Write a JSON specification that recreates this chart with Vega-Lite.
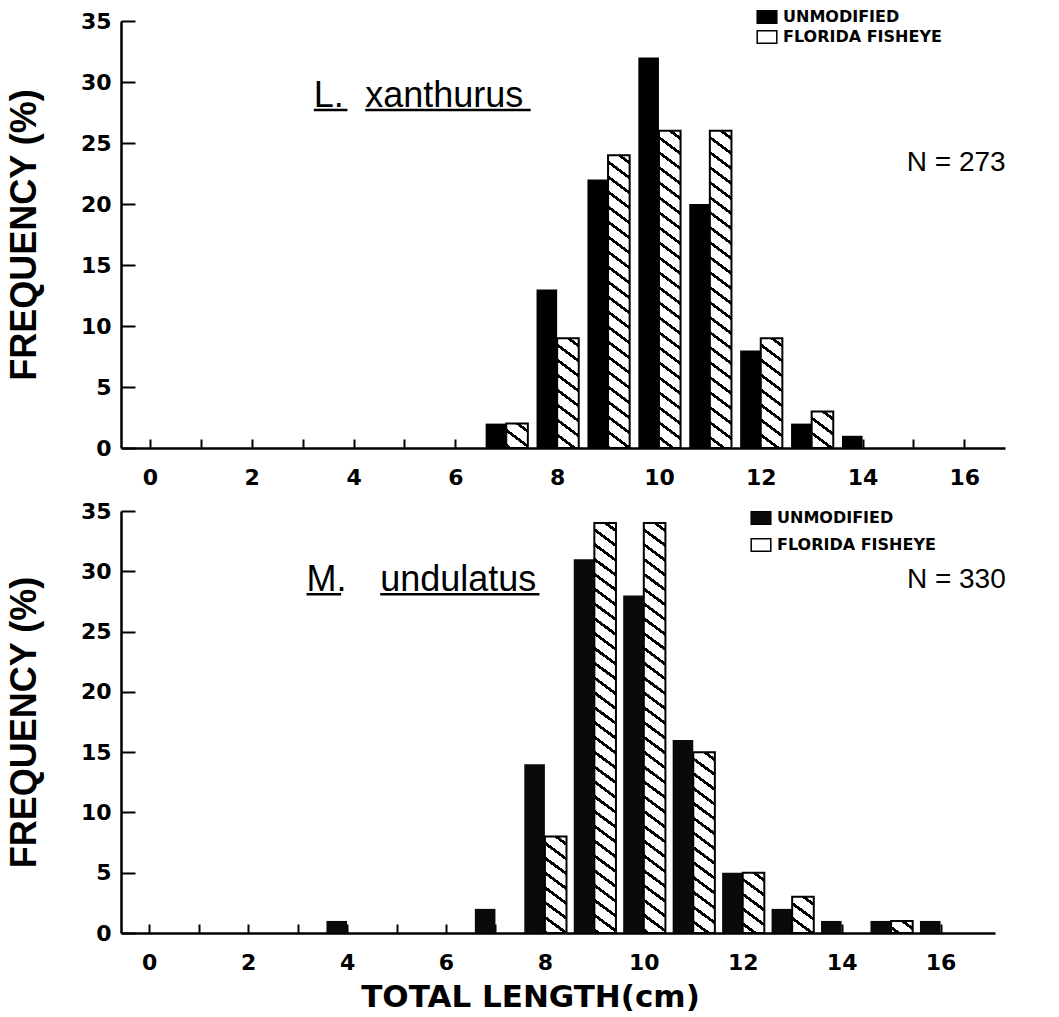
{
  "$schema": "https://vega.github.io/schema/vega-lite/v6.json",
  "padding": {"left": 6, "top": 9, "right": 5, "bottom": 0},
  "background": "white",
  "spacing": 12,
  "resolve": {"scale": {"fill": "independent"}, "legend": {"fill": "independent"}},
  "config": {
    "view": {"stroke": null},
    "axis": {"domainColor": "#000", "tickColor": "#000", "labelColor": "#000", "titleColor": "#000", "grid": false, "domainWidth": 2.5, "tickWidth": 2, "labelFont": "DejaVu Sans", "labelFontWeight": "bold", "labelFontSize": 22},
    "legend": {"labelFont": "DejaVu Sans", "labelFontWeight": "bold", "labelFontSize": 16, "labelColor": "#000", "padding": 0, "labelOffset": 8}
  },
  "datasets": {
    "d": [
      {"panel": "top", "group": "UNMODIFIED", "len": 7, "v": 2},
      {"panel": "top", "group": "UNMODIFIED", "len": 8, "v": 13},
      {"panel": "top", "group": "UNMODIFIED", "len": 9, "v": 22},
      {"panel": "top", "group": "UNMODIFIED", "len": 10, "v": 32},
      {"panel": "top", "group": "UNMODIFIED", "len": 11, "v": 20},
      {"panel": "top", "group": "UNMODIFIED", "len": 12, "v": 8},
      {"panel": "top", "group": "UNMODIFIED", "len": 13, "v": 2},
      {"panel": "top", "group": "UNMODIFIED", "len": 14, "v": 1},
      {"panel": "top", "group": "FLORIDA FISHEYE", "len": 7, "v": 2},
      {"panel": "top", "group": "FLORIDA FISHEYE", "len": 8, "v": 9},
      {"panel": "top", "group": "FLORIDA FISHEYE", "len": 9, "v": 24},
      {"panel": "top", "group": "FLORIDA FISHEYE", "len": 10, "v": 26},
      {"panel": "top", "group": "FLORIDA FISHEYE", "len": 11, "v": 26},
      {"panel": "top", "group": "FLORIDA FISHEYE", "len": 12, "v": 9},
      {"panel": "top", "group": "FLORIDA FISHEYE", "len": 13, "v": 3},
      {"panel": "bottom", "group": "UNMODIFIED", "len": 4, "v": 1},
      {"panel": "bottom", "group": "UNMODIFIED", "len": 7, "v": 2},
      {"panel": "bottom", "group": "UNMODIFIED", "len": 8, "v": 14},
      {"panel": "bottom", "group": "UNMODIFIED", "len": 9, "v": 31},
      {"panel": "bottom", "group": "UNMODIFIED", "len": 10, "v": 28},
      {"panel": "bottom", "group": "UNMODIFIED", "len": 11, "v": 16},
      {"panel": "bottom", "group": "UNMODIFIED", "len": 12, "v": 5},
      {"panel": "bottom", "group": "UNMODIFIED", "len": 13, "v": 2},
      {"panel": "bottom", "group": "UNMODIFIED", "len": 14, "v": 1},
      {"panel": "bottom", "group": "UNMODIFIED", "len": 15, "v": 1},
      {"panel": "bottom", "group": "UNMODIFIED", "len": 16, "v": 1},
      {"panel": "bottom", "group": "FLORIDA FISHEYE", "len": 8, "v": 8},
      {"panel": "bottom", "group": "FLORIDA FISHEYE", "len": 9, "v": 34},
      {"panel": "bottom", "group": "FLORIDA FISHEYE", "len": 10, "v": 34},
      {"panel": "bottom", "group": "FLORIDA FISHEYE", "len": 11, "v": 15},
      {"panel": "bottom", "group": "FLORIDA FISHEYE", "len": 12, "v": 5},
      {"panel": "bottom", "group": "FLORIDA FISHEYE", "len": 13, "v": 3},
      {"panel": "bottom", "group": "FLORIDA FISHEYE", "len": 15, "v": 1}
    ]
  },
  "vconcat": [
    {
      "width": 884,
      "height": 427,
      "layer": [
        {
          "data": {"name": "d"},
          "transform": [{"filter": "datum.panel === 'top' && datum.group === 'UNMODIFIED'"}],
          "mark": {"type": "bar", "orient": "vertical", "width": 20.6, "xOffset": -10.3},
          "encoding": {
            "x": {"field": "len", "type": "quantitative", "scale": {"domain": [-0.47, 16.7], "nice": false, "zero": false},
                  "axis": {"values": [0,1,2,3,4,5,6,7,8,9,10,11,12,13,14,15,16], "labelExpr": "datum.value % 2 === 0 ? datum.label : ''", "tickSize": -9, "labelPadding": 28, "title": null}},
            "y": {"field": "v", "type": "quantitative", "scale": {"domain": [0, 35], "nice": false},
                  "axis": {"values": [0,5,10,15,20,25,30,35], "tickSize": -14, "labelPadding": 24, "title": "FREQUENCY (%)", "titleFont": "Liberation Sans", "titleFontSize": 36, "titleFontWeight": "bold", "titlePadding": 37}},
            "fill": {"field": "group", "type": "nominal", "scale": {"domain": ["UNMODIFIED", "FLORIDA FISHEYE"], "range": ["#000", "#fff"]},
                     "legend": {"orient": "none", "legendX": 638, "legendY": -12, "title": null, "symbolType": "M-1.4,-0.9H1.4V0.9H-1.4Z", "symbolSize": 196, "symbolStrokeColor": "#000", "symbolStrokeWidth": 1.5, "rowPadding": 0}}
          }
        },
        {
          "data": {"name": "d"},
          "transform": [{"filter": "datum.panel === 'top' && datum.group === 'FLORIDA FISHEYE'"}],
          "mark": {"type": "bar", "orient": "vertical", "width": 21.6, "xOffset": 10.8, "stroke": "#000", "strokeWidth": 2},
          "encoding": {
            "x": {"field": "len", "type": "quantitative"},
            "y": {"field": "v", "type": "quantitative"},
            "fill": {
              "condition": [
                {"test": "datum.v === 2", "value": {"gradient": "linear", "x1": 1, "y1": 0, "x2": -10.331, "y2": 17.067, "stops": [{"offset":0,"color":"#fff"},{"offset":0.01,"color":"#fff"},{"offset":0.01,"color":"#000"},{"offset":0.016,"color":"#000"},{"offset":0.016,"color":"#fff"},{"offset":0.035,"color":"#fff"},{"offset":0.035,"color":"#000"},{"offset":0.041,"color":"#000"},{"offset":0.041,"color":"#fff"},{"offset":0.06,"color":"#fff"},{"offset":0.06,"color":"#000"},{"offset":0.066,"color":"#000"},{"offset":0.066,"color":"#fff"}]}},
                {"test": "datum.v === 3", "value": {"gradient": "linear", "x1": 1, "y1": 0, "x2": -5.068, "y2": 13.708, "stops": [{"offset":0,"color":"#fff"},{"offset":0.01,"color":"#fff"},{"offset":0.01,"color":"#000"},{"offset":0.016,"color":"#000"},{"offset":0.016,"color":"#fff"},{"offset":0.035,"color":"#fff"},{"offset":0.035,"color":"#000"},{"offset":0.041,"color":"#000"},{"offset":0.041,"color":"#fff"},{"offset":0.06,"color":"#fff"},{"offset":0.06,"color":"#000"},{"offset":0.066,"color":"#000"},{"offset":0.066,"color":"#fff"},{"offset":0.085,"color":"#fff"},{"offset":0.085,"color":"#000"},{"offset":0.091,"color":"#000"},{"offset":0.091,"color":"#fff"}]}},
                {"test": "datum.v === 9", "value": {"gradient": "linear", "x1": 1, "y1": 0, "x2": 0.211, "y2": 5.348, "stops": [{"offset":0,"color":"#fff"},{"offset":0.01,"color":"#fff"},{"offset":0.01,"color":"#000"},{"offset":0.016,"color":"#000"},{"offset":0.016,"color":"#fff"},{"offset":0.035,"color":"#fff"},{"offset":0.035,"color":"#000"},{"offset":0.041,"color":"#000"},{"offset":0.041,"color":"#fff"},{"offset":0.06,"color":"#fff"},{"offset":0.06,"color":"#000"},{"offset":0.066,"color":"#000"},{"offset":0.066,"color":"#fff"},{"offset":0.085,"color":"#fff"},{"offset":0.085,"color":"#000"},{"offset":0.091,"color":"#000"},{"offset":0.091,"color":"#fff"},{"offset":0.11,"color":"#fff"},{"offset":0.11,"color":"#000"},{"offset":0.116,"color":"#000"},{"offset":0.116,"color":"#fff"},{"offset":0.135,"color":"#fff"},{"offset":0.135,"color":"#000"},{"offset":0.141,"color":"#000"},{"offset":0.141,"color":"#fff"},{"offset":0.16,"color":"#fff"},{"offset":0.16,"color":"#000"},{"offset":0.166,"color":"#000"},{"offset":0.166,"color":"#fff"},{"offset":0.185,"color":"#fff"},{"offset":0.185,"color":"#000"},{"offset":0.191,"color":"#000"},{"offset":0.191,"color":"#fff"},{"offset":0.21,"color":"#fff"},{"offset":0.21,"color":"#000"},{"offset":0.216,"color":"#000"},{"offset":0.216,"color":"#fff"}]}},
                {"test": "datum.v === 24", "value": {"gradient": "linear", "x1": 1, "y1": 0, "x2": 0.887, "y2": 2.043, "stops": [{"offset":0,"color":"#fff"},{"offset":0.01,"color":"#fff"},{"offset":0.01,"color":"#000"},{"offset":0.016,"color":"#000"},{"offset":0.016,"color":"#fff"},{"offset":0.035,"color":"#fff"},{"offset":0.035,"color":"#000"},{"offset":0.041,"color":"#000"},{"offset":0.041,"color":"#fff"},{"offset":0.06,"color":"#fff"},{"offset":0.06,"color":"#000"},{"offset":0.066,"color":"#000"},{"offset":0.066,"color":"#fff"},{"offset":0.085,"color":"#fff"},{"offset":0.085,"color":"#000"},{"offset":0.091,"color":"#000"},{"offset":0.091,"color":"#fff"},{"offset":0.11,"color":"#fff"},{"offset":0.11,"color":"#000"},{"offset":0.116,"color":"#000"},{"offset":0.116,"color":"#fff"},{"offset":0.135,"color":"#fff"},{"offset":0.135,"color":"#000"},{"offset":0.141,"color":"#000"},{"offset":0.141,"color":"#fff"},{"offset":0.16,"color":"#fff"},{"offset":0.16,"color":"#000"},{"offset":0.166,"color":"#000"},{"offset":0.166,"color":"#fff"},{"offset":0.185,"color":"#fff"},{"offset":0.185,"color":"#000"},{"offset":0.191,"color":"#000"},{"offset":0.191,"color":"#fff"},{"offset":0.21,"color":"#fff"},{"offset":0.21,"color":"#000"},{"offset":0.216,"color":"#000"},{"offset":0.216,"color":"#fff"},{"offset":0.235,"color":"#fff"},{"offset":0.235,"color":"#000"},{"offset":0.241,"color":"#000"},{"offset":0.241,"color":"#fff"},{"offset":0.26,"color":"#fff"},{"offset":0.26,"color":"#000"},{"offset":0.266,"color":"#000"},{"offset":0.266,"color":"#fff"},{"offset":0.285,"color":"#fff"},{"offset":0.285,"color":"#000"},{"offset":0.291,"color":"#000"},{"offset":0.291,"color":"#fff"},{"offset":0.31,"color":"#fff"},{"offset":0.31,"color":"#000"},{"offset":0.316,"color":"#000"},{"offset":0.316,"color":"#fff"},{"offset":0.335,"color":"#fff"},{"offset":0.335,"color":"#000"},{"offset":0.341,"color":"#000"},{"offset":0.341,"color":"#fff"},{"offset":0.36,"color":"#fff"},{"offset":0.36,"color":"#000"},{"offset":0.366,"color":"#000"},{"offset":0.366,"color":"#fff"},{"offset":0.385,"color":"#fff"},{"offset":0.385,"color":"#000"},{"offset":0.391,"color":"#000"},{"offset":0.391,"color":"#fff"},{"offset":0.41,"color":"#fff"},{"offset":0.41,"color":"#000"},{"offset":0.416,"color":"#000"},{"offset":0.416,"color":"#fff"},{"offset":0.435,"color":"#fff"},{"offset":0.435,"color":"#000"},{"offset":0.441,"color":"#000"},{"offset":0.441,"color":"#fff"},{"offset":0.46,"color":"#fff"},{"offset":0.46,"color":"#000"},{"offset":0.466,"color":"#000"},{"offset":0.466,"color":"#fff"},{"offset":0.485,"color":"#fff"},{"offset":0.485,"color":"#000"},{"offset":0.491,"color":"#000"},{"offset":0.491,"color":"#fff"},{"offset":0.51,"color":"#fff"},{"offset":0.51,"color":"#000"},{"offset":0.516,"color":"#000"},{"offset":0.516,"color":"#fff"}]}},
                {"test": "datum.v === 26", "value": {"gradient": "linear", "x1": 1, "y1": 0, "x2": 0.9036, "y2": 1.8866, "stops": [{"offset":0,"color":"#fff"},{"offset":0.01,"color":"#fff"},{"offset":0.01,"color":"#000"},{"offset":0.016,"color":"#000"},{"offset":0.016,"color":"#fff"},{"offset":0.035,"color":"#fff"},{"offset":0.035,"color":"#000"},{"offset":0.041,"color":"#000"},{"offset":0.041,"color":"#fff"},{"offset":0.06,"color":"#fff"},{"offset":0.06,"color":"#000"},{"offset":0.066,"color":"#000"},{"offset":0.066,"color":"#fff"},{"offset":0.085,"color":"#fff"},{"offset":0.085,"color":"#000"},{"offset":0.091,"color":"#000"},{"offset":0.091,"color":"#fff"},{"offset":0.11,"color":"#fff"},{"offset":0.11,"color":"#000"},{"offset":0.116,"color":"#000"},{"offset":0.116,"color":"#fff"},{"offset":0.135,"color":"#fff"},{"offset":0.135,"color":"#000"},{"offset":0.141,"color":"#000"},{"offset":0.141,"color":"#fff"},{"offset":0.16,"color":"#fff"},{"offset":0.16,"color":"#000"},{"offset":0.166,"color":"#000"},{"offset":0.166,"color":"#fff"},{"offset":0.185,"color":"#fff"},{"offset":0.185,"color":"#000"},{"offset":0.191,"color":"#000"},{"offset":0.191,"color":"#fff"},{"offset":0.21,"color":"#fff"},{"offset":0.21,"color":"#000"},{"offset":0.216,"color":"#000"},{"offset":0.216,"color":"#fff"},{"offset":0.235,"color":"#fff"},{"offset":0.235,"color":"#000"},{"offset":0.241,"color":"#000"},{"offset":0.241,"color":"#fff"},{"offset":0.26,"color":"#fff"},{"offset":0.26,"color":"#000"},{"offset":0.266,"color":"#000"},{"offset":0.266,"color":"#fff"},{"offset":0.285,"color":"#fff"},{"offset":0.285,"color":"#000"},{"offset":0.291,"color":"#000"},{"offset":0.291,"color":"#fff"},{"offset":0.31,"color":"#fff"},{"offset":0.31,"color":"#000"},{"offset":0.316,"color":"#000"},{"offset":0.316,"color":"#fff"},{"offset":0.335,"color":"#fff"},{"offset":0.335,"color":"#000"},{"offset":0.341,"color":"#000"},{"offset":0.341,"color":"#fff"},{"offset":0.36,"color":"#fff"},{"offset":0.36,"color":"#000"},{"offset":0.366,"color":"#000"},{"offset":0.366,"color":"#fff"},{"offset":0.385,"color":"#fff"},{"offset":0.385,"color":"#000"},{"offset":0.391,"color":"#000"},{"offset":0.391,"color":"#fff"},{"offset":0.41,"color":"#fff"},{"offset":0.41,"color":"#000"},{"offset":0.416,"color":"#000"},{"offset":0.416,"color":"#fff"},{"offset":0.435,"color":"#fff"},{"offset":0.435,"color":"#000"},{"offset":0.441,"color":"#000"},{"offset":0.441,"color":"#fff"},{"offset":0.46,"color":"#fff"},{"offset":0.46,"color":"#000"},{"offset":0.466,"color":"#000"},{"offset":0.466,"color":"#fff"},{"offset":0.485,"color":"#fff"},{"offset":0.485,"color":"#000"},{"offset":0.491,"color":"#000"},{"offset":0.491,"color":"#fff"},{"offset":0.51,"color":"#fff"},{"offset":0.51,"color":"#000"},{"offset":0.516,"color":"#000"},{"offset":0.516,"color":"#fff"},{"offset":0.535,"color":"#fff"},{"offset":0.535,"color":"#000"},{"offset":0.541,"color":"#000"},{"offset":0.541,"color":"#fff"}]}}
              ],
              "value": "#fff"
            }
          }
        },
        {
          "data": {"values": [{"t": "L."}]},
          "mark": {"type": "text", "font": "Liberation Sans", "fontSize": 36, "align": "left", "baseline": "alphabetic", "color": "#000"},
          "encoding": {"x": {"datum": 3.22}, "y": {"datum": 27.95}, "text": {"field": "t"}}
        },
        {
          "data": {"values": [{"t": "xanthurus"}]},
          "mark": {"type": "text", "font": "Liberation Sans", "fontSize": 36, "align": "left", "baseline": "alphabetic", "color": "#000"},
          "encoding": {"x": {"datum": 4.23}, "y": {"datum": 27.95}, "text": {"field": "t"}}
        },
        {
          "data": {"values": [{}]},
          "mark": {"type": "rule", "strokeWidth": 2.5, "color": "#000"},
          "encoding": {"x": {"datum": 3.22}, "x2": {"datum": 3.88}, "y": {"datum": 27.7}}
        },
        {
          "data": {"values": [{}]},
          "mark": {"type": "rule", "strokeWidth": 2.5, "color": "#000"},
          "encoding": {"x": {"datum": 4.23}, "x2": {"datum": 7.48}, "y": {"datum": 27.7}}
        },
        {
          "data": {"values": [{"t": "N = 273"}]},
          "mark": {"type": "text", "font": "Liberation Sans", "fontSize": 28, "align": "left", "baseline": "alphabetic", "color": "#000"},
          "encoding": {"x": {"datum": 14.87}, "y": {"datum": 22.7}, "text": {"field": "t"}}
        }
      ]
    },
    {
      "width": 874,
      "height": 422,
      "layer": [
        {
          "data": {"name": "d"},
          "transform": [{"filter": "datum.panel === 'bottom' && datum.group === 'UNMODIFIED'"}],
          "mark": {"type": "bar", "orient": "vertical", "width": 20.6, "xOffset": -10.3},
          "encoding": {
            "x": {"field": "len", "type": "quantitative", "scale": {"domain": [-0.47, 17], "nice": false, "zero": false},
                  "axis": {"values": [0,1,2,3,4,5,6,7,8,9,10,11,12,13,14,15,16], "labelExpr": "datum.value % 2 === 0 ? datum.label : ''", "tickSize": -9, "labelPadding": 28, "title": "TOTAL LENGTH(cm)", "titleFont": "DejaVu Sans", "titleFontSize": 31, "titleFontWeight": "bold", "titlePadding": 9, "titleX": 409, "titleAnchor": "middle"}},
            "y": {"field": "v", "type": "quantitative", "scale": {"domain": [0, 35], "nice": false},
                  "axis": {"values": [0,5,10,15,20,25,30,35], "tickSize": -14, "labelPadding": 24, "title": "FREQUENCY (%)", "titleFont": "Liberation Sans", "titleFontSize": 36, "titleFontWeight": "bold", "titlePadding": 37}},
            "fill": {"field": "group", "type": "nominal", "scale": {"domain": ["UNMODIFIED", "FLORIDA FISHEYE"], "range": ["#0a0a0a", "#fff"]},
                     "legend": {"orient": "none", "legendX": 632, "legendY": -1, "title": null, "symbolType": "M-1.4,-0.9H1.4V0.9H-1.4Z", "symbolSize": 196, "symbolStrokeColor": "#000", "symbolStrokeWidth": 1.5, "rowPadding": 7}}
          }
        },
        {
          "data": {"name": "d"},
          "transform": [{"filter": "datum.panel === 'bottom' && datum.group === 'FLORIDA FISHEYE'"}],
          "mark": {"type": "bar", "orient": "vertical", "width": 21.6, "xOffset": 10.8, "stroke": "#000", "strokeWidth": 2},
          "encoding": {
            "x": {"field": "len", "type": "quantitative"},
            "y": {"field": "v", "type": "quantitative"},
            "fill": {
              "condition": [
                {"test": "datum.v === 1", "value": {"gradient": "linear", "x1": 1, "y1": 0, "x2": -22.64, "y2": 17.8, "stops": [{"offset":0,"color":"#fff"},{"offset":0.01,"color":"#fff"},{"offset":0.01,"color":"#000"},{"offset":0.016,"color":"#000"},{"offset":0.016,"color":"#fff"},{"offset":0.035,"color":"#fff"},{"offset":0.035,"color":"#000"},{"offset":0.041,"color":"#000"},{"offset":0.041,"color":"#fff"}]}},
                {"test": "datum.v === 3", "value": {"gradient": "linear", "x1": 1, "y1": 0, "x2": -5.068, "y2": 13.708, "stops": [{"offset":0,"color":"#fff"},{"offset":0.01,"color":"#fff"},{"offset":0.01,"color":"#000"},{"offset":0.016,"color":"#000"},{"offset":0.016,"color":"#fff"},{"offset":0.035,"color":"#fff"},{"offset":0.035,"color":"#000"},{"offset":0.041,"color":"#000"},{"offset":0.041,"color":"#fff"},{"offset":0.06,"color":"#fff"},{"offset":0.06,"color":"#000"},{"offset":0.066,"color":"#000"},{"offset":0.066,"color":"#fff"},{"offset":0.085,"color":"#fff"},{"offset":0.085,"color":"#000"},{"offset":0.091,"color":"#000"},{"offset":0.091,"color":"#fff"}]}},
                {"test": "datum.v === 5", "value": {"gradient": "linear", "x1": 1, "y1": 0, "x2": -1.44, "y2": 9.188, "stops": [{"offset":0,"color":"#fff"},{"offset":0.01,"color":"#fff"},{"offset":0.01,"color":"#000"},{"offset":0.016,"color":"#000"},{"offset":0.016,"color":"#fff"},{"offset":0.035,"color":"#fff"},{"offset":0.035,"color":"#000"},{"offset":0.041,"color":"#000"},{"offset":0.041,"color":"#fff"},{"offset":0.06,"color":"#fff"},{"offset":0.06,"color":"#000"},{"offset":0.066,"color":"#000"},{"offset":0.066,"color":"#fff"},{"offset":0.085,"color":"#fff"},{"offset":0.085,"color":"#000"},{"offset":0.091,"color":"#000"},{"offset":0.091,"color":"#fff"},{"offset":0.11,"color":"#fff"},{"offset":0.11,"color":"#000"},{"offset":0.116,"color":"#000"},{"offset":0.116,"color":"#fff"}]}},
                {"test": "datum.v === 8", "value": {"gradient": "linear", "x1": 1, "y1": 0, "x2": 0.007, "y2": 5.983, "stops": [{"offset":0,"color":"#fff"},{"offset":0.01,"color":"#fff"},{"offset":0.01,"color":"#000"},{"offset":0.016,"color":"#000"},{"offset":0.016,"color":"#fff"},{"offset":0.035,"color":"#fff"},{"offset":0.035,"color":"#000"},{"offset":0.041,"color":"#000"},{"offset":0.041,"color":"#fff"},{"offset":0.06,"color":"#fff"},{"offset":0.06,"color":"#000"},{"offset":0.066,"color":"#000"},{"offset":0.066,"color":"#fff"},{"offset":0.085,"color":"#fff"},{"offset":0.085,"color":"#000"},{"offset":0.091,"color":"#000"},{"offset":0.091,"color":"#fff"},{"offset":0.11,"color":"#fff"},{"offset":0.11,"color":"#000"},{"offset":0.116,"color":"#000"},{"offset":0.116,"color":"#fff"},{"offset":0.135,"color":"#fff"},{"offset":0.135,"color":"#000"},{"offset":0.141,"color":"#000"},{"offset":0.141,"color":"#fff"},{"offset":0.16,"color":"#fff"},{"offset":0.16,"color":"#000"},{"offset":0.166,"color":"#000"},{"offset":0.166,"color":"#fff"},{"offset":0.185,"color":"#fff"},{"offset":0.185,"color":"#000"},{"offset":0.191,"color":"#000"},{"offset":0.191,"color":"#fff"}]}},
                {"test": "datum.v === 15", "value": {"gradient": "linear", "x1": 1, "y1": 0, "x2": 0.712, "y2": 3.253, "stops": [{"offset":0,"color":"#fff"},{"offset":0.01,"color":"#fff"},{"offset":0.01,"color":"#000"},{"offset":0.016,"color":"#000"},{"offset":0.016,"color":"#fff"},{"offset":0.035,"color":"#fff"},{"offset":0.035,"color":"#000"},{"offset":0.041,"color":"#000"},{"offset":0.041,"color":"#fff"},{"offset":0.06,"color":"#fff"},{"offset":0.06,"color":"#000"},{"offset":0.066,"color":"#000"},{"offset":0.066,"color":"#fff"},{"offset":0.085,"color":"#fff"},{"offset":0.085,"color":"#000"},{"offset":0.091,"color":"#000"},{"offset":0.091,"color":"#fff"},{"offset":0.11,"color":"#fff"},{"offset":0.11,"color":"#000"},{"offset":0.116,"color":"#000"},{"offset":0.116,"color":"#fff"},{"offset":0.135,"color":"#fff"},{"offset":0.135,"color":"#000"},{"offset":0.141,"color":"#000"},{"offset":0.141,"color":"#fff"},{"offset":0.16,"color":"#fff"},{"offset":0.16,"color":"#000"},{"offset":0.166,"color":"#000"},{"offset":0.166,"color":"#fff"},{"offset":0.185,"color":"#fff"},{"offset":0.185,"color":"#000"},{"offset":0.191,"color":"#000"},{"offset":0.191,"color":"#fff"},{"offset":0.21,"color":"#fff"},{"offset":0.21,"color":"#000"},{"offset":0.216,"color":"#000"},{"offset":0.216,"color":"#fff"},{"offset":0.235,"color":"#fff"},{"offset":0.235,"color":"#000"},{"offset":0.241,"color":"#000"},{"offset":0.241,"color":"#fff"},{"offset":0.26,"color":"#fff"},{"offset":0.26,"color":"#000"},{"offset":0.266,"color":"#000"},{"offset":0.266,"color":"#fff"},{"offset":0.285,"color":"#fff"},{"offset":0.285,"color":"#000"},{"offset":0.291,"color":"#000"},{"offset":0.291,"color":"#fff"},{"offset":0.31,"color":"#fff"},{"offset":0.31,"color":"#000"},{"offset":0.316,"color":"#000"},{"offset":0.316,"color":"#fff"}]}},
                {"test": "datum.v === 34", "value": {"gradient": "linear", "x1": 1, "y1": 0, "x2": 0.9436, "y2": 1.4443, "stops": [{"offset":0,"color":"#fff"},{"offset":0.01,"color":"#fff"},{"offset":0.01,"color":"#000"},{"offset":0.016,"color":"#000"},{"offset":0.016,"color":"#fff"},{"offset":0.035,"color":"#fff"},{"offset":0.035,"color":"#000"},{"offset":0.041,"color":"#000"},{"offset":0.041,"color":"#fff"},{"offset":0.06,"color":"#fff"},{"offset":0.06,"color":"#000"},{"offset":0.066,"color":"#000"},{"offset":0.066,"color":"#fff"},{"offset":0.085,"color":"#fff"},{"offset":0.085,"color":"#000"},{"offset":0.091,"color":"#000"},{"offset":0.091,"color":"#fff"},{"offset":0.11,"color":"#fff"},{"offset":0.11,"color":"#000"},{"offset":0.116,"color":"#000"},{"offset":0.116,"color":"#fff"},{"offset":0.135,"color":"#fff"},{"offset":0.135,"color":"#000"},{"offset":0.141,"color":"#000"},{"offset":0.141,"color":"#fff"},{"offset":0.16,"color":"#fff"},{"offset":0.16,"color":"#000"},{"offset":0.166,"color":"#000"},{"offset":0.166,"color":"#fff"},{"offset":0.185,"color":"#fff"},{"offset":0.185,"color":"#000"},{"offset":0.191,"color":"#000"},{"offset":0.191,"color":"#fff"},{"offset":0.21,"color":"#fff"},{"offset":0.21,"color":"#000"},{"offset":0.216,"color":"#000"},{"offset":0.216,"color":"#fff"},{"offset":0.235,"color":"#fff"},{"offset":0.235,"color":"#000"},{"offset":0.241,"color":"#000"},{"offset":0.241,"color":"#fff"},{"offset":0.26,"color":"#fff"},{"offset":0.26,"color":"#000"},{"offset":0.266,"color":"#000"},{"offset":0.266,"color":"#fff"},{"offset":0.285,"color":"#fff"},{"offset":0.285,"color":"#000"},{"offset":0.291,"color":"#000"},{"offset":0.291,"color":"#fff"},{"offset":0.31,"color":"#fff"},{"offset":0.31,"color":"#000"},{"offset":0.316,"color":"#000"},{"offset":0.316,"color":"#fff"},{"offset":0.335,"color":"#fff"},{"offset":0.335,"color":"#000"},{"offset":0.341,"color":"#000"},{"offset":0.341,"color":"#fff"},{"offset":0.36,"color":"#fff"},{"offset":0.36,"color":"#000"},{"offset":0.366,"color":"#000"},{"offset":0.366,"color":"#fff"},{"offset":0.385,"color":"#fff"},{"offset":0.385,"color":"#000"},{"offset":0.391,"color":"#000"},{"offset":0.391,"color":"#fff"},{"offset":0.41,"color":"#fff"},{"offset":0.41,"color":"#000"},{"offset":0.416,"color":"#000"},{"offset":0.416,"color":"#fff"},{"offset":0.435,"color":"#fff"},{"offset":0.435,"color":"#000"},{"offset":0.441,"color":"#000"},{"offset":0.441,"color":"#fff"},{"offset":0.46,"color":"#fff"},{"offset":0.46,"color":"#000"},{"offset":0.466,"color":"#000"},{"offset":0.466,"color":"#fff"},{"offset":0.485,"color":"#fff"},{"offset":0.485,"color":"#000"},{"offset":0.491,"color":"#000"},{"offset":0.491,"color":"#fff"},{"offset":0.51,"color":"#fff"},{"offset":0.51,"color":"#000"},{"offset":0.516,"color":"#000"},{"offset":0.516,"color":"#fff"},{"offset":0.535,"color":"#fff"},{"offset":0.535,"color":"#000"},{"offset":0.541,"color":"#000"},{"offset":0.541,"color":"#fff"},{"offset":0.56,"color":"#fff"},{"offset":0.56,"color":"#000"},{"offset":0.566,"color":"#000"},{"offset":0.566,"color":"#fff"},{"offset":0.585,"color":"#fff"},{"offset":0.585,"color":"#000"},{"offset":0.591,"color":"#000"},{"offset":0.591,"color":"#fff"},{"offset":0.61,"color":"#fff"},{"offset":0.61,"color":"#000"},{"offset":0.616,"color":"#000"},{"offset":0.616,"color":"#fff"},{"offset":0.635,"color":"#fff"},{"offset":0.635,"color":"#000"},{"offset":0.641,"color":"#000"},{"offset":0.641,"color":"#fff"},{"offset":0.66,"color":"#fff"},{"offset":0.66,"color":"#000"},{"offset":0.666,"color":"#000"},{"offset":0.666,"color":"#fff"},{"offset":0.685,"color":"#fff"},{"offset":0.685,"color":"#000"},{"offset":0.691,"color":"#000"},{"offset":0.691,"color":"#fff"},{"offset":0.71,"color":"#fff"},{"offset":0.71,"color":"#000"},{"offset":0.716,"color":"#000"},{"offset":0.716,"color":"#fff"}]}}
              ],
              "value": "#fff"
            }
          }
        },
        {
          "data": {"values": [{"t": "M."}]},
          "mark": {"type": "text", "font": "Liberation Sans", "fontSize": 36, "align": "left", "baseline": "alphabetic", "color": "#000"},
          "encoding": {"x": {"datum": 3.18}, "y": {"datum": 28.4}, "text": {"field": "t"}}
        },
        {
          "data": {"values": [{"t": "undulatus"}]},
          "mark": {"type": "text", "font": "Liberation Sans", "fontSize": 36, "align": "left", "baseline": "alphabetic", "color": "#000"},
          "encoding": {"x": {"datum": 4.67}, "y": {"datum": 28.4}, "text": {"field": "t"}}
        },
        {
          "data": {"values": [{}]},
          "mark": {"type": "rule", "strokeWidth": 2.5, "color": "#000"},
          "encoding": {"x": {"datum": 3.18}, "x2": {"datum": 3.88}, "y": {"datum": 28.1}}
        },
        {
          "data": {"values": [{}]},
          "mark": {"type": "rule", "strokeWidth": 2.5, "color": "#000"},
          "encoding": {"x": {"datum": 4.67}, "x2": {"datum": 7.89}, "y": {"datum": 28.1}}
        },
        {
          "data": {"values": [{"t": "N = 330"}]},
          "mark": {"type": "text", "font": "Liberation Sans", "fontSize": 28, "align": "left", "baseline": "alphabetic", "color": "#000"},
          "encoding": {"x": {"datum": 15.32}, "y": {"datum": 28.6}, "text": {"field": "t"}}
        }
      ]
    }
  ]
}
